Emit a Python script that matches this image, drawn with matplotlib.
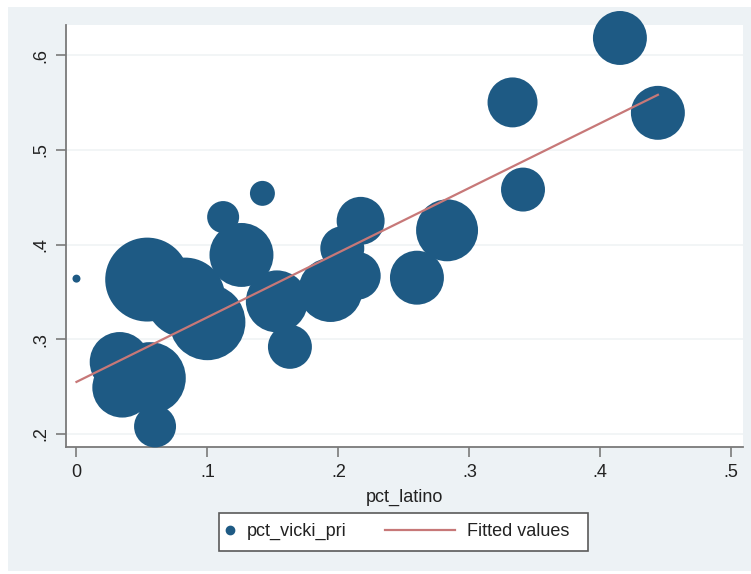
import matplotlib.pyplot as plt
from matplotlib.patches import Rectangle
from matplotlib.lines import Line2D

plt.rcParams['font.family'] = ['Liberation Sans', 'DejaVu Sans']

# county-level values (weight = marker area)
pct_latino = [0.000, 0.054, 0.083, 0.100, 0.033, 0.056, 0.035, 0.060,
              0.112, 0.126, 0.142, 0.153, 0.163, 0.217, 0.203, 0.194,
              0.214, 0.260, 0.283, 0.333, 0.341, 0.415, 0.444]
pct_vicki_pri = [0.364, 0.363, 0.344, 0.318, 0.276, 0.259, 0.249, 0.208,
                 0.429, 0.389, 0.454, 0.340, 0.292, 0.425, 0.396, 0.352,
                 0.367, 0.365, 0.415, 0.550, 0.458, 0.618, 0.539]
weight = [16, 1764, 1600, 1444, 900, 1296, 900, 441,
          256, 1024, 156, 961, 484, 576, 484, 1024,
          576, 729, 961, 625, 484, 729, 729]

fit_x = [0.0, 0.444]
fit_y = [0.255, 0.558]

xticks = [0, 0.1, 0.2, 0.3, 0.4, 0.5]
xtick_labels = ['0', '.1', '.2', '.3', '.4', '.5']
yticks = [0.2, 0.3, 0.4, 0.5, 0.6]
ytick_labels = ['.2', '.3', '.4', '.5', '.6']

navy = '#1e5a84'
fitcol = '#c77878'
bg = '#edf2f5'
W, H = 751, 574

fig = plt.figure(figsize=(W / 100, H / 100), dpi=100)
fig.patch.set_facecolor('white')
fig.add_artist(Rectangle((8 / W, 3 / H), (W - 8) / W, (H - 10) / H,
                         transform=fig.transFigure, facecolor=bg,
                         edgecolor='none', zorder=-5))

ax = fig.add_axes([66 / W, 1 - 447 / H, 677 / W, 422 / H])
ax.set_facecolor('white')

ax.scatter(pct_latino, pct_vicki_pri, s=[w * 2.07 for w in weight],
           color=navy, linewidths=0, clip_on=False, zorder=3)
ax.plot(fit_x, fit_y, color=fitcol, lw=1.6, zorder=4)

ax.set_xlim(-0.008, 0.509)
ax.set_ylim(0.1863, 0.6317)
ax.set_xticks(xticks, xtick_labels)
ax.set_yticks(yticks, ytick_labels)
for lab in ax.get_yticklabels():
    lab.set_rotation(90)
    lab.set_va('center')
ax.tick_params(axis='both', labelsize=13, color='#7a7a7a', length=7,
               width=1.2, pad=5, labelcolor='#222222')
ax.yaxis.grid(True, color='#f0f3f5', lw=1.2)
ax.set_axisbelow(True)

for side in ['top', 'right']:
    ax.spines[side].set_visible(False)
for side in ['left', 'bottom']:
    ax.spines[side].set_color('#7a7a7a')
    ax.spines[side].set_linewidth(1.3)

ax.set_xlabel('pct_latino', fontsize=13, color='#222222', labelpad=6)

# legend box drawn by hand to match Stata's layout
def fx(px):
    return px / W

def fy(py):
    return 1 - py / H

fig.add_artist(Rectangle((fx(219), fy(551)), (588 - 219) / W, (551 - 513) / H,
                         transform=fig.transFigure, facecolor='white',
                         edgecolor='#5a5a5a', lw=1.2, zorder=5))
fig.add_artist(Line2D([fx(230)], [fy(530)], marker='o', markersize=6,
                      color=navy, lw=0, transform=fig.transFigure, zorder=6))
fig.add_artist(Line2D([fx(385), fx(455)], [fy(530), fy(530)], color=fitcol,
                      lw=1.6, transform=fig.transFigure, zorder=6))
fig.text(fx(247), fy(531), 'pct_vicki_pri', fontsize=13, va='center',
         ha='left', color='#222222', zorder=6)
fig.text(fx(467), fy(531), 'Fitted values', fontsize=13, va='center',
         ha='left', color='#222222', zorder=6)

fig.savefig('out.png', dpi=100)
